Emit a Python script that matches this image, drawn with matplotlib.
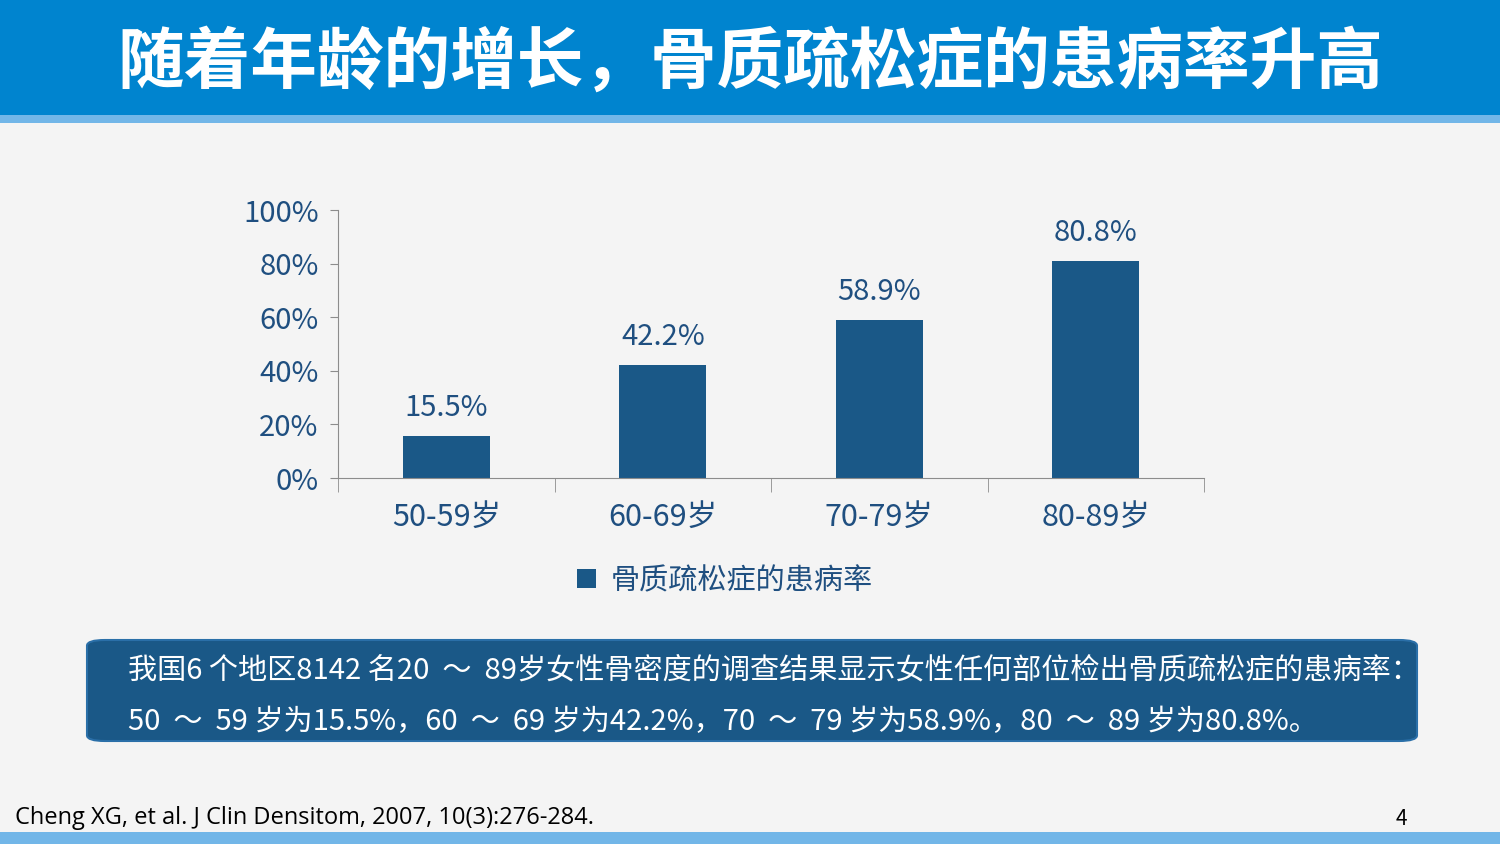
import matplotlib
matplotlib.use('Agg')
import matplotlib.pyplot as plt
from matplotlib.patches import Rectangle, FancyBboxPatch

plt.rcParams['font.family'] = ['Noto Sans CJK SC', 'DejaVu Sans']

# 数据
年龄组 = ['50-59岁', '60-69岁', '70-79岁', '80-89岁']
患病率 = [15.5, 42.2, 58.9, 80.8]
y刻度 = [0, 20, 40, 60, 80, 100]
图例名 = '骨质疏松症的患病率'

标题 = '随着年龄的增长，骨质疏松症的患病率升高'
说明1 = '我国6 个地区8142 名20  ～  89岁女性骨密度的调查结果显示女性任何部位检出骨质疏松症的患病率：'
说明2 = '50  ～  59 岁为15.5%，60  ～  69 岁为42.2%，70  ～  79 岁为58.9%，80  ～  89 岁为80.8%。'
文献 = 'Cheng XG, et al. J Clin Densitom, 2007, 10(3):276-284.'

深蓝 = '#1a5887'
字色 = '#1f4f80'

fig = plt.figure(figsize=(15, 8.44), dpi=100)
fig.patch.set_facecolor('#f4f4f4')

# 顶部标题栏
fig.patches.append(Rectangle((0, 1 - 115 / 844), 1, 115 / 844, transform=fig.transFigure,
                             facecolor='#0084cf', edgecolor='none', zorder=0))
fig.patches.append(Rectangle((0, 1 - 123 / 844), 1, 8 / 844, transform=fig.transFigure,
                             facecolor='#72b6e8', edgecolor='none', zorder=0))
fig.text(0.5, 1 - 63 / 844, 标题, color='white', fontsize=48, fontweight='bold',
         ha='center', va='center')

# 底部条
fig.patches.append(Rectangle((0, 0), 1, 12 / 844, transform=fig.transFigure,
                             facecolor='#72b6e8', edgecolor='none', zorder=0))

# 柱状图
ax = fig.add_axes([338 / 1500, 1 - 478 / 844, 866 / 1500, 268 / 844])
ax.set_facecolor('none')
x = range(len(年龄组))
bars = ax.bar(x, [v / 100 for v in 患病率], width=0.4, color=深蓝, label=图例名)
for xi, v in zip(x, 患病率):
    ax.text(xi, v / 100 + 0.05, f'{v}%', ha='center', va='bottom', fontsize=21, color=字色)

ax.set_xlim(-0.5, len(年龄组) - 0.5)
ax.set_ylim(0, 1)
ax.set_yticks([t / 100 for t in y刻度])
ax.set_yticklabels([f'{t}%' for t in y刻度], fontsize=21, color=字色)
ax.set_xticks(list(x))
ax.set_xticklabels(年龄组, fontsize=22, color=字色)
ax.set_xticks([i - 0.5 for i in range(len(年龄组) + 1)], minor=True)
ax.tick_params(axis='x', which='major', length=0, pad=17)
ax.tick_params(axis='x', which='minor', length=10, color='#8c8c8c')
ax.tick_params(axis='y', length=6, color='#8c8c8c', pad=8)
for s in ['top', 'right']:
    ax.spines[s].set_visible(False)
for s in ['left', 'bottom']:
    ax.spines[s].set_color('#8c8c8c')

leg = fig.legend(handles=[bars], labels=[图例名], loc='center', bbox_to_anchor=(725 / 1500, 1 - 581 / 844),
                 frameon=False, fontsize=21, handlelength=0.65, handleheight=0.65, handletextpad=0.5)
for t in leg.get_texts():
    t.set_color(字色)

# 说明框
fig.patches.append(FancyBboxPatch((87 / 1500, 1 - 741 / 844), 1330 / 1500, 101 / 844,
                                  boxstyle='round,pad=0,rounding_size=0.012',
                                  transform=fig.transFigure, facecolor=深蓝,
                                  edgecolor='#2a6fa8', linewidth=1.5, zorder=1,
                                  mutation_aspect=844 / 1500))
fig.text(128 / 1500, 1 - 670 / 844, 说明1, color='white', fontsize=21, ha='left', va='center')
fig.text(128 / 1500, 1 - 722 / 844, 说明2, color='white', fontsize=21, ha='left', va='center')

# 页脚
fig.text(15 / 1500, 1 - 818 / 844, 文献, color='black', fontsize=17, ha='left', va='center',
         family=['Open Sans', 'DejaVu Sans'])
fig.text(1401 / 1500, 1 - 819 / 844, '4', color='black', fontsize=15, ha='center', va='center')

fig.savefig('out.png', dpi=100, facecolor=fig.get_facecolor())
